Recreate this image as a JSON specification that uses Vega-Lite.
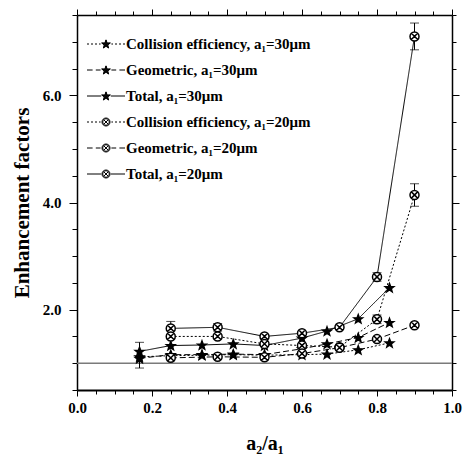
{
  "$schema": "https://vega.github.io/schema/vega-lite/v6.json",
  "width": 375,
  "height": 375,
  "autosize": {"type": "none"},
  "padding": {"left": 77, "top": 15, "right": 12, "bottom": 65},
  "background": "white",
  "config": {
    "view": {"stroke": null},
    "mark": {"color": "black"},
    "axis": {"grid": false, "domainColor": "black", "tickColor": "black", "tickWidth": 1, "labelColor": "black", "titleColor": "black"}
  },
  "datasets": {
    "pts": [
      {"series": "Total, a₁=30μm", "x": 0.1667, "y": 1.22},
      {"series": "Total, a₁=30μm", "x": 0.25, "y": 1.33},
      {"series": "Total, a₁=30μm", "x": 0.3333, "y": 1.34},
      {"series": "Total, a₁=30μm", "x": 0.4167, "y": 1.36},
      {"series": "Total, a₁=30μm", "x": 0.5, "y": 1.33},
      {"series": "Total, a₁=30μm", "x": 0.6, "y": 1.47},
      {"series": "Total, a₁=30μm", "x": 0.6667, "y": 1.60},
      {"series": "Total, a₁=30μm", "x": 0.75, "y": 1.83},
      {"series": "Total, a₁=30μm", "x": 0.8333, "y": 2.41},
      {"series": "Collision efficiency, a₁=30μm", "x": 0.1667, "y": 1.12},
      {"series": "Collision efficiency, a₁=30μm", "x": 0.25, "y": 1.14},
      {"series": "Collision efficiency, a₁=30μm", "x": 0.3333, "y": 1.15},
      {"series": "Collision efficiency, a₁=30μm", "x": 0.4167, "y": 1.16},
      {"series": "Collision efficiency, a₁=30μm", "x": 0.5, "y": 1.15},
      {"series": "Collision efficiency, a₁=30μm", "x": 0.6, "y": 1.16},
      {"series": "Collision efficiency, a₁=30μm", "x": 0.6667, "y": 1.17},
      {"series": "Collision efficiency, a₁=30μm", "x": 0.75, "y": 1.25},
      {"series": "Collision efficiency, a₁=30μm", "x": 0.8333, "y": 1.38},
      {"series": "Geometric, a₁=30μm", "x": 0.1667, "y": 1.09},
      {"series": "Geometric, a₁=30μm", "x": 0.25, "y": 1.16},
      {"series": "Geometric, a₁=30μm", "x": 0.3333, "y": 1.16},
      {"series": "Geometric, a₁=30μm", "x": 0.4167, "y": 1.17},
      {"series": "Geometric, a₁=30μm", "x": 0.5, "y": 1.16},
      {"series": "Geometric, a₁=30μm", "x": 0.6, "y": 1.27},
      {"series": "Geometric, a₁=30μm", "x": 0.6667, "y": 1.36},
      {"series": "Geometric, a₁=30μm", "x": 0.75, "y": 1.48},
      {"series": "Geometric, a₁=30μm", "x": 0.8333, "y": 1.76},
      {"series": "Total, a₁=20μm", "x": 0.25, "y": 1.65},
      {"series": "Total, a₁=20μm", "x": 0.375, "y": 1.67},
      {"series": "Total, a₁=20μm", "x": 0.5, "y": 1.50},
      {"series": "Total, a₁=20μm", "x": 0.6, "y": 1.56},
      {"series": "Total, a₁=20μm", "x": 0.7, "y": 1.67},
      {"series": "Total, a₁=20μm", "x": 0.8, "y": 2.61},
      {"series": "Total, a₁=20μm", "x": 0.9, "y": 7.10},
      {"series": "Collision efficiency, a₁=20μm", "x": 0.25, "y": 1.50},
      {"series": "Collision efficiency, a₁=20μm", "x": 0.375, "y": 1.50},
      {"series": "Collision efficiency, a₁=20μm", "x": 0.5, "y": 1.36},
      {"series": "Collision efficiency, a₁=20μm", "x": 0.6, "y": 1.33},
      {"series": "Collision efficiency, a₁=20μm", "x": 0.7, "y": 1.30},
      {"series": "Collision efficiency, a₁=20μm", "x": 0.8, "y": 1.82},
      {"series": "Collision efficiency, a₁=20μm", "x": 0.9, "y": 4.14},
      {"series": "Geometric, a₁=20μm", "x": 0.25, "y": 1.10},
      {"series": "Geometric, a₁=20μm", "x": 0.375, "y": 1.12},
      {"series": "Geometric, a₁=20μm", "x": 0.5, "y": 1.11},
      {"series": "Geometric, a₁=20μm", "x": 0.6, "y": 1.18},
      {"series": "Geometric, a₁=20μm", "x": 0.7, "y": 1.29},
      {"series": "Geometric, a₁=20μm", "x": 0.8, "y": 1.45},
      {"series": "Geometric, a₁=20μm", "x": 0.9, "y": 1.71}
    ],
    "err": [
      {"x": 0.1667, "lo": 0.91, "hi": 1.39},
      {"x": 0.25, "lo": 1.53, "hi": 1.78},
      {"x": 0.375, "lo": 1.60, "hi": 1.74},
      {"x": 0.8, "lo": 2.53, "hi": 2.69},
      {"x": 0.8, "lo": 1.74, "hi": 1.90},
      {"x": 0.9, "lo": 6.85, "hi": 7.35},
      {"x": 0.9, "lo": 3.93, "hi": 4.35}
    ],
    "names": [
      {"series": "Collision efficiency, a₁=30μm"},
      {"series": "Geometric, a₁=30μm"},
      {"series": "Total, a₁=30μm"},
      {"series": "Collision efficiency, a₁=20μm"},
      {"series": "Geometric, a₁=20μm"},
      {"series": "Total, a₁=20μm"}
    ],
    "ref": [{"x0": 0, "x1": 1, "y": 1}]
  },
  "resolve": {
    "scale": {"shape": "independent", "fill": "independent", "strokeDash": "independent"},
    "axis": {"x": "independent", "y": "independent"}
  },
  "layer": [
    {
      "data": {"name": "ref"},
      "mark": {"type": "rule", "color": "#7a7a7a", "strokeWidth": 1.5},
      "encoding": {
        "x": {"field": "x0", "type": "quantitative", "scale": {"domain": [0, 1], "nice": false, "zero": false},
          "axis": {"orient": "top", "title": null, "labels": false, "domainWidth": 1.5,
            "values": [0,0.05,0.1,0.15,0.2,0.25,0.3,0.35,0.4,0.45,0.5,0.55,0.6,0.65,0.7,0.75,0.8,0.85,0.9,0.95,1.0],
            "tickSize": {"condition": {"test": "abs(datum.value*5 - round(datum.value*5)) < 0.001", "value": 6}, "value": 4}}},
        "x2": {"field": "x1"},
        "y": {"field": "y", "type": "quantitative", "scale": {"domain": [0.5, 7.5], "nice": false, "zero": false},
          "axis": {"orient": "right", "title": null, "labels": false, "domainWidth": 1.5,
            "values": [0.5,1,1.5,2,2.5,3,3.5,4,4.5,5,5.5,6,6.5,7,7.5],
            "tickSize": {"condition": {"test": "abs(datum.value/2 - round(datum.value/2)) < 0.001", "value": 7}, "value": 4}}}
      }
    },
    {
      "data": {"name": "pts"},
      "mark": {"type": "line", "color": "black", "strokeWidth": 1},
      "encoding": {
        "x": {"field": "x", "type": "quantitative", "scale": {"domain": [0, 1], "nice": false, "zero": false},
          "axis": {"orient": "bottom", "title": "a₂/a₁", "titleFont": "Liberation Serif", "titleFontSize": 20, "titleFontWeight": "bold", "titlePadding": 18,
            "labelFont": "Liberation Serif", "labelFontSize": 15, "labelFontWeight": "bold", "labelPadding": 4,
            "labelOverlap": false, "labelFlush": false, "labelBound": false, "domainWidth": 2,
            "values": [0,0.05,0.1,0.15,0.2,0.25,0.3,0.35,0.4,0.45,0.5,0.55,0.6,0.65,0.7,0.75,0.8,0.85,0.9,0.95,1.0],
            "labelExpr": "abs(datum.value*5 - round(datum.value*5)) < 0.001 ? format(datum.value, '.1f') : ''",
            "tickSize": {"condition": {"test": "abs(datum.value*5 - round(datum.value*5)) < 0.001", "value": 6}, "value": 4}}},
        "y": {"field": "y", "type": "quantitative", "scale": {"domain": [0.5, 7.5], "nice": false, "zero": false},
          "axis": {"orient": "left", "title": "Enhancement factors", "titleFont": "Liberation Serif", "titleFontSize": 21, "titleFontWeight": "bold", "titlePadding": 10,
            "labelFont": "Liberation Serif", "labelFontSize": 15, "labelFontWeight": "bold", "labelPadding": 8,
            "labelOverlap": false, "labelFlush": false, "labelBound": false, "domainWidth": 1.5,
            "values": [0.5,1,1.5,2,2.5,3,3.5,4,4.5,5,5.5,6,6.5,7,7.5],
            "labelExpr": "abs(datum.value/2 - round(datum.value/2)) < 0.001 ? format(datum.value, '.1f') : ''",
            "tickSize": {"condition": {"test": "abs(datum.value/2 - round(datum.value/2)) < 0.001", "value": 8}, "value": 5}}},
        "strokeDash": {"field": "series", "type": "nominal", "legend": null,
          "scale": {"domain": ["Collision efficiency, a₁=30μm", "Geometric, a₁=30μm", "Total, a₁=30μm", "Collision efficiency, a₁=20μm", "Geometric, a₁=20μm", "Total, a₁=20μm"],
            "range": [[2, 2], [6, 3], [1, 0], [2, 2], [6, 3], [1, 0]]}}
      }
    },
    {
      "data": {"name": "err"},
      "mark": {"type": "errorbar", "color": "black", "thickness": 1, "ticks": {"size": 9, "color": "black", "thickness": 1}},
      "encoding": {
        "x": {"field": "x", "type": "quantitative", "scale": {"domain": [0, 1], "nice": false, "zero": false}, "axis": null},
        "y": {"field": "lo", "type": "quantitative", "scale": {"domain": [0.5, 7.5], "nice": false, "zero": false}, "axis": null},
        "y2": {"field": "hi"}
      }
    },
    {
      "data": {"name": "pts"},
      "mark": {"type": "point", "filled": true, "stroke": "black", "strokeWidth": 1.5, "size": 81, "opacity": 1},
      "encoding": {
        "x": {"field": "x", "type": "quantitative", "scale": {"domain": [0, 1], "nice": false, "zero": false}, "axis": null},
        "y": {"field": "y", "type": "quantitative", "scale": {"domain": [0.5, 7.5], "nice": false, "zero": false}, "axis": null},
        "shape": {"field": "series", "type": "nominal", "legend": null,
          "scale": {"domain": ["Collision efficiency, a₁=30μm", "Geometric, a₁=30μm", "Total, a₁=30μm", "Collision efficiency, a₁=20μm", "Geometric, a₁=20μm", "Total, a₁=20μm"],
            "range": [
              "M0,-0.905L0.247,-0.245L0.951,-0.214L0.399,0.225L0.588,0.904L0,0.515L-0.588,0.904L-0.399,0.225L-0.951,-0.214L-0.247,-0.245Z",
              "M0,-0.905L0.247,-0.245L0.951,-0.214L0.399,0.225L0.588,0.904L0,0.515L-0.588,0.904L-0.399,0.225L-0.951,-0.214L-0.247,-0.245Z",
              "M0,-0.905L0.247,-0.245L0.951,-0.214L0.399,0.225L0.588,0.904L0,0.515L-0.588,0.904L-0.399,0.225L-0.951,-0.214L-0.247,-0.245Z",
              "M1,0A1,1,0,1,1,-1,0A1,1,0,1,1,1,0ZM-0.7,-0.7L0.7,0.7M-0.7,0.7L0.7,-0.7",
              "M1,0A1,1,0,1,1,-1,0A1,1,0,1,1,1,0ZM-0.7,-0.7L0.7,0.7M-0.7,0.7L0.7,-0.7",
              "M1,0A1,1,0,1,1,-1,0A1,1,0,1,1,1,0ZM-0.7,-0.7L0.7,0.7M-0.7,0.7L0.7,-0.7"
            ]}},
        "fill": {"field": "series", "type": "nominal", "legend": null,
          "scale": {"domain": ["Collision efficiency, a₁=30μm", "Geometric, a₁=30μm", "Total, a₁=30μm", "Collision efficiency, a₁=20μm", "Geometric, a₁=20μm", "Total, a₁=20μm"],
            "range": ["black", "black", "black", "white", "white", "white"]}}
      }
    },
    {
      "data": {"name": "names"},
      "mark": {"type": "point", "stroke": "black", "opacity": 0},
      "encoding": {
        "shape": {"field": "series", "type": "nominal",
          "scale": {"domain": ["Collision efficiency, a₁=30μm", "Geometric, a₁=30μm", "Total, a₁=30μm", "Collision efficiency, a₁=20μm", "Geometric, a₁=20μm", "Total, a₁=20μm"],
            "range": [
              "M-4.75,0L-4.25,0M-3.75,0L-3.25,0M-2.75,0L-2.25,0M-1.75,0L-1.35,0M1.35,0L1.75,0M2.25,0L2.75,0M3.25,0L3.75,0M4.25,0L4.75,0M0,-1.025L0.278,-0.282L1.07,-0.248L0.449,0.246L0.662,1.01L0,0.5725L-0.662,1.01L-0.449,0.246L-1.07,-0.248L-0.278,-0.282ZM0,-0.631L0.181,-0.148L0.696,-0.126L0.292,0.195L0.43,0.692L0,0.407L-0.43,0.692L-0.292,0.195L-0.696,-0.126L-0.181,-0.148ZM0,-0.238L0.083,-0.015L0.321,-0.004L0.135,0.144L0.199,0.373L0,0.242L-0.199,0.373L-0.135,0.144L-0.321,-0.004L-0.083,-0.015ZM0,0.1L0,-1.025M0,0.1L1.07,-0.248M0,0.1L0.662,1.01M0,0.1L-0.662,1.01M0,0.1L-1.07,-0.248",
              "M-4.75,0L-3.35,0M-2.55,0L-1.35,0M1.35,0L2.55,0M3.35,0L4.75,0M0,-1.025L0.278,-0.282L1.07,-0.248L0.449,0.246L0.662,1.01L0,0.5725L-0.662,1.01L-0.449,0.246L-1.07,-0.248L-0.278,-0.282ZM0,-0.631L0.181,-0.148L0.696,-0.126L0.292,0.195L0.43,0.692L0,0.407L-0.43,0.692L-0.292,0.195L-0.696,-0.126L-0.181,-0.148ZM0,-0.238L0.083,-0.015L0.321,-0.004L0.135,0.144L0.199,0.373L0,0.242L-0.199,0.373L-0.135,0.144L-0.321,-0.004L-0.083,-0.015ZM0,0.1L0,-1.025M0,0.1L1.07,-0.248M0,0.1L0.662,1.01M0,0.1L-0.662,1.01M0,0.1L-1.07,-0.248",
              "M-4.75,0L-1.2,0M1.2,0L4.75,0M0,-1.025L0.278,-0.282L1.07,-0.248L0.449,0.246L0.662,1.01L0,0.5725L-0.662,1.01L-0.449,0.246L-1.07,-0.248L-0.278,-0.282ZM0,-0.631L0.181,-0.148L0.696,-0.126L0.292,0.195L0.43,0.692L0,0.407L-0.43,0.692L-0.292,0.195L-0.696,-0.126L-0.181,-0.148ZM0,-0.238L0.083,-0.015L0.321,-0.004L0.135,0.144L0.199,0.373L0,0.242L-0.199,0.373L-0.135,0.144L-0.321,-0.004L-0.083,-0.015ZM0,0.1L0,-1.025M0,0.1L1.07,-0.248M0,0.1L0.662,1.01M0,0.1L-0.662,1.01M0,0.1L-1.07,-0.248",
              "M-4.75,0L-4.25,0M-3.75,0L-3.25,0M-2.75,0L-2.25,0M-1.75,0L-1.35,0M1.35,0L1.75,0M2.25,0L2.75,0M3.25,0L3.75,0M4.25,0L4.75,0M1,0A1,1,0,1,1,-1,0A1,1,0,1,1,1,0ZM0.82,0A0.82,0.82,0,1,0,-0.82,0A0.82,0.82,0,1,0,0.82,0ZM-0.6,-0.6L0.6,0.6M-0.6,0.6L0.6,-0.6",
              "M-4.75,0L-3.35,0M-2.55,0L-1.35,0M1.35,0L2.55,0M3.35,0L4.75,0M1,0A1,1,0,1,1,-1,0A1,1,0,1,1,1,0ZM0.82,0A0.82,0.82,0,1,0,-0.82,0A0.82,0.82,0,1,0,0.82,0ZM-0.6,-0.6L0.6,0.6M-0.6,0.6L0.6,-0.6",
              "M-4.75,0L-1.2,0M1.2,0L4.75,0M1,0A1,1,0,1,1,-1,0A1,1,0,1,1,1,0ZM0.82,0A0.82,0.82,0,1,0,-0.82,0A0.82,0.82,0,1,0,0.82,0ZM-0.6,-0.6L0.6,0.6M-0.6,0.6L0.6,-0.6"
            ]},
          "legend": {"title": null, "orient": "none", "legendX": 21.5, "legendY": 21.5, "padding": 0,
            "symbolSize": 64, "symbolStrokeWidth": 1, "symbolOpacity": 1, "symbolOffset": 0, "symbolStrokeColor": "black",
            "labelFont": "Liberation Serif", "labelFontSize": 15, "labelFontWeight": "bold", "labelColor": "black", "labelOffset": 12.5, "labelLimit": 400,
            "rowPadding": 10}}
      }
    }
  ]
}
